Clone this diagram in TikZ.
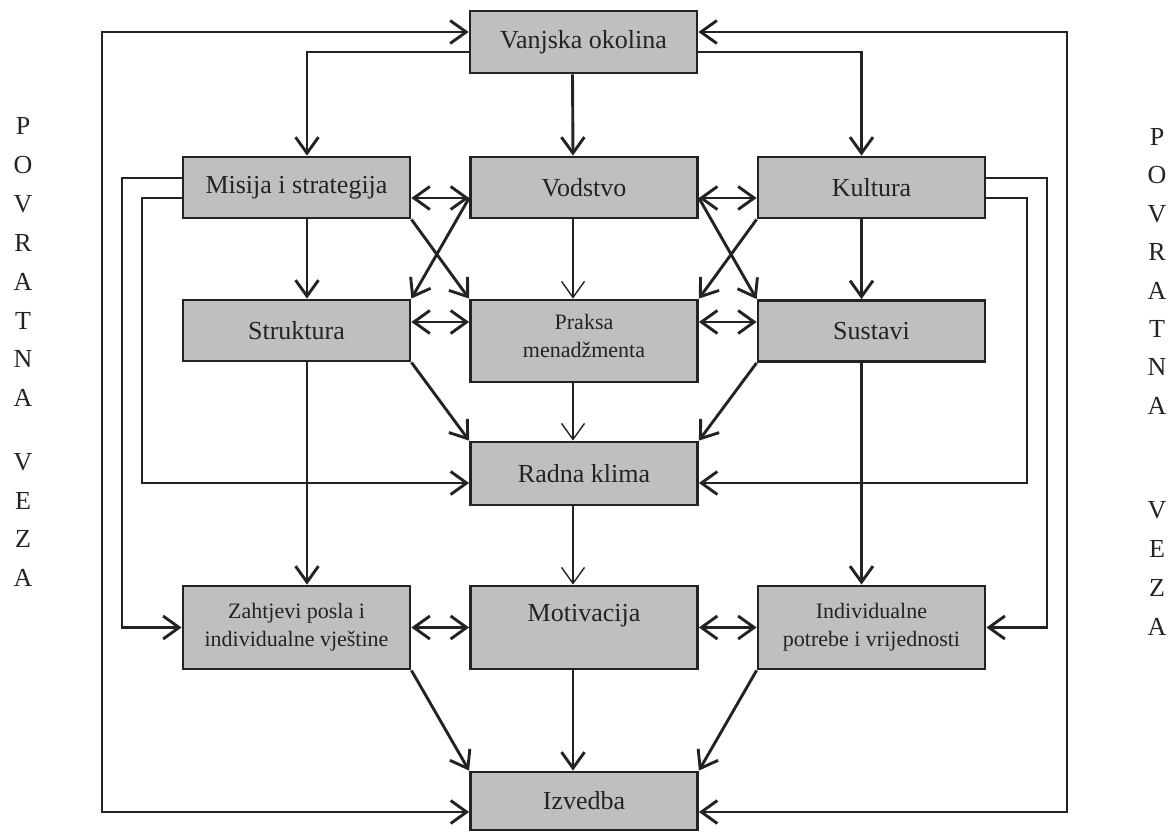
\documentclass[tikz,border=0pt]{standalone}
\usepackage{fontspec}
\setmainfont{Liberation Serif}
\usetikzlibrary{arrows.meta}
\definecolor{boxfill}{RGB}{191,191,191}
\definecolor{ink}{RGB}{35,35,35}
\begin{document}
\begin{tikzpicture}[x=1pt,y=-1pt,
  box/.style={draw=ink,fill=boxfill,line width=2.8pt,minimum width=227pt,inner sep=0pt,
    font=\fontsize{26}{30}\selectfont,align=center,text=ink},
  smalltext/.style={font=\fontsize{22}{28}\selectfont},
  tip/.tip={Straight Barb[length=16pt,width=23pt]},
  arr/.style={draw=ink,line width=2.9pt,-tip},
  thinarr/.style={draw=ink,line width=1.4pt,-tip},
  bi/.style={draw=ink,line width=2.9pt,tip-tip},
  vl/.style={font=\fontsize{26}{30}\selectfont,text=ink,inner sep=0pt}
]
\useasboundingbox (0,0) rectangle (1173,832);

% boxes
\node[box,minimum height=62pt] (van) at (583.5,42) {Vanjska okolina};
\node[box,minimum height=61pt] (mis) at (296.5,187.5) {Misija i strategija};
\node[box,minimum height=61pt] (vod) at (584,187.5) {Vodstvo};
\node[box,minimum height=61pt] (kul) at (871.5,187.5) {Kultura};
\node[box,minimum height=61pt] (str) at (296.5,330.5) {Struktura};
\node[box,minimum height=82pt,smalltext] (pra) at (584,341) {Praksa\\menadžmenta\rule[-10pt]{0pt}{10pt}};
\node[box,minimum height=61pt] (sus) at (871.5,331) {Sustavi};
\node[box,minimum height=63pt] (rad) at (584,473.5) {Radna klima};
\node[box,minimum height=83pt,smalltext] (zah) at (296.5,627.5) {Zahtjevi posla i\\individualne vještine};
\node[box,minimum height=83pt] (mot) at (584,627.5) {Motivacija\\[-10pt]\strut};
\node[box,minimum height=83pt,smalltext] (ind) at (871.5,627.5) {Individualne\\potrebe i vrijednosti};
\node[box,minimum height=58pt] (izv) at (584,801) {Izvedba};

% side letters
\foreach \l [count=\i] in {P,O,V,R,A,T,N,A}
  \node[vl] (La\i) at (23,{126+38.9*(\i-1)}) {\l};
\foreach \l [count=\i] in {V,E,Z,A}
  \node[vl] (Lb\i) at (23,{462+38.7*(\i-1)}) {\l};
\foreach \l [count=\i] in {P,O,V,R,A,T,N,A}
  \node[vl] (Ra\i) at (1157,{137+38.4*(\i-1)}) {\l};
\foreach \l [count=\i] in {V,E,Z,A}
  \node[vl] (Rb\i) at (1157,{510+39*(\i-1)}) {\l};

% helper coordinates
\coordinate (lo) at (102,0);
\coordinate (li) at (122,0);
\coordinate (lii) at (142,0);
\coordinate (ro) at (1067,0);
\coordinate (ri) at (1047,0);
\coordinate (rii) at (1027,0);
\coordinate (vanL) at ([yshift=10pt]van.west);
\coordinate (vanR) at ([yshift=10pt]van.east);
\coordinate (izvL) at ([yshift=-11pt]izv.west);
\coordinate (izvR) at ([yshift=-11pt]izv.east);
\coordinate (misA) at ([yshift=9.5pt]mis.west);
\coordinate (misB) at ([yshift=-10.5pt]mis.west);
\coordinate (kulA) at ([yshift=9.5pt]kul.east);
\coordinate (kulB) at ([yshift=-10.5pt]kul.east);
\coordinate (radL) at ([yshift=-9.5pt]rad.west);
\coordinate (radR) at ([yshift=-9.5pt]rad.east);
\coordinate (sp) at ([yshift=8.5pt]str.east);

% outer feedback loops
\draw[bi] (vanL) -| (lo |- izvL) -- (izvL);
\draw[bi] (vanR) -| (ro |- izvR) -- (izvR);

% inner feedback lines
\draw[arr] (misA) -| (li |- zah.west) -- (zah.west);
\draw[arr] (misB) -| (lii |- radL) -- (radL);
\draw[arr] (kulA) -| (ri |- ind.east) -- (ind.east);
\draw[arr] (kulB) -| (rii |- radR) -- (radR);

% from environment
\draw[arr] ([yshift=-10pt]van.west) -| ([xshift=10.5pt]mis.north);
\draw[arr] ([xshift=-11pt]van.south) -- ([xshift=-11pt]vod.north);
\draw[arr] ([yshift=-10pt]van.east) -| ([xshift=-10pt]kul.north);

% horizontal two-way links
\draw[bi] ([yshift=-10.5pt]mis.east) -- ([yshift=-10.5pt]vod.west);
\draw[bi] ([yshift=-10.5pt]vod.east) -- ([yshift=-10.5pt]kul.west);
\draw[bi] (sp) -- (sp -| pra.west);
\draw[bi] (sp -| pra.east) -- (sp -| sus.west);
\draw[bi] (zah.east) -- (mot.west);
\draw[bi] (mot.east) -- (ind.west);

% crossing diagonals
\draw[arr] (mis.south east) -- (pra.north west);
\draw[arr] ([yshift=-10.5pt]vod.west) -- (str.north east);
\draw[arr] ([yshift=-10.5pt]vod.east) -- (sus.north west);
\draw[arr] (kul.south west) -- (pra.north east);

% verticals
\draw[arr] ([xshift=10.5pt]mis.south) -- ([xshift=10.5pt]str.north);
\draw[arr] ([xshift=10.5pt]str.south) -- ([xshift=10.5pt]zah.north);
\draw[arr] ([xshift=-10pt]kul.south) -- ([xshift=-10pt]sus.north);
\draw[arr] ([xshift=-10pt]sus.south) -- ([xshift=-10pt]ind.north);
\draw[thinarr] ([xshift=-11pt]vod.south) -- ([xshift=-11pt]pra.north);
\draw[thinarr] ([xshift=-11pt]pra.south) -- ([xshift=-11pt]rad.north);
\draw[thinarr] ([xshift=-11pt]rad.south) -- ([xshift=-11pt]mot.north);
\draw[arr] ([xshift=-11pt]mot.south) -- ([xshift=-11pt]izv.north);

% lower diagonals
\draw[arr] (str.south east) -- (rad.north west);
\draw[arr] (sus.south west) -- (rad.north east);
\draw[arr] (zah.south east) -- (izv.north west);
\draw[arr] (ind.south west) -- (izv.north east);
\end{tikzpicture}
\end{document}
